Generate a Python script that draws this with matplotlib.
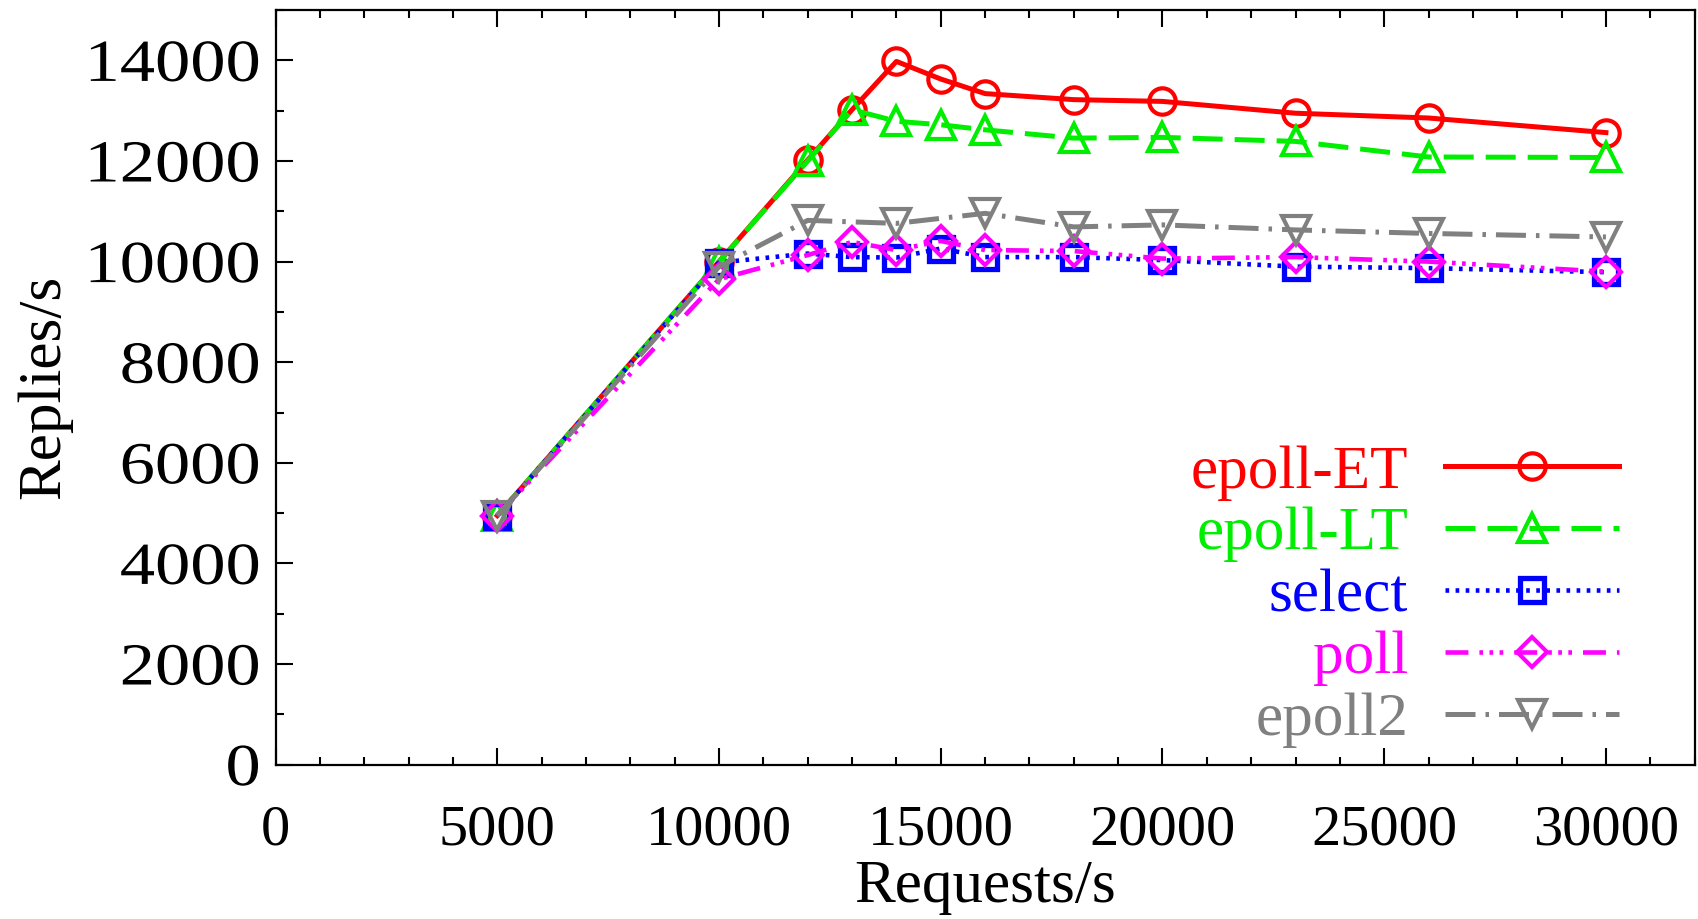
import matplotlib
matplotlib.use("Agg")
import matplotlib.pyplot as plt
from matplotlib.ticker import MultipleLocator
from matplotlib.patheffects import AbstractPathEffect
from matplotlib.transforms import Affine2D

plt.rcParams['font.family'] = ['Liberation Serif', 'DejaVu Serif']

# request rates (x) and reply rates (y)
req = [5000, 10000, 12000, 13000, 14000, 15000, 16000, 18000, 20000, 23000, 26000, 30000]
epoll_et = [4950, 10000, 12020, 13020, 13980, 13630, 13340, 13220, 13185, 12950, 12855, 12565]
epoll_lt = [4950, 10000, 12000, 13020, 12790, 12720, 12620, 12455, 12470, 12390, 12080, 12070]
select = [4950, 9980, 10160, 10090, 10080, 10260, 10090, 10090, 10030, 9900, 9870, 9790]
poll = [4950, 9650, 10130, 10390, 10230, 10410, 10230, 10210, 10060, 10090, 10000, 9800]

req2 = [5000, 10000, 12000, 14000, 16000, 18000, 20000, 23000, 26000, 30000]
epoll2 = [4950, 9900, 10820, 10760, 10960, 10690, 10730, 10630, 10560, 10490]

labels = ['epoll-ET', 'epoll-LT', 'select', 'poll', 'epoll2']
colors = ['#ff0000', '#00ee00', '#0000ff', '#ff00ff', '#808080']


class StretchX(AbstractPathEffect):
    # widen glyphs sideways, keeping the right end in place (the y labels
    # in the original are drawn wider than normal)
    def __init__(self, sx):
        super().__init__()
        self.sx = sx

    def draw_path(self, renderer, gc, tpath, affine, rgbFace=None):
        xmax = tpath.get_extents().x1
        t = Affine2D().scale(self.sx, 1).translate(-(self.sx - 1) * xmax, 0)
        renderer.draw_path(gc, tpath, t + affine, rgbFace)


fig = plt.figure(figsize=(16.98, 9.19), dpi=100)
ax = fig.add_axes([0.1623, 0.168, 0.8357, 0.821])

ms = 19
mew = 3.0
ax.plot(req, epoll_et, color=colors[0], lw=3.6, linestyle='-',
        marker='o', ms=ms, mfc='none', mew=mew, label=labels[0])
ax.plot(req, epoll_lt, color=colors[1], lw=3.6, linestyle=(0, (6, 2.4)),
        marker='^', ms=ms + 1, mfc='none', mew=mew, label=labels[1])
ax.plot(req, select, color=colors[2], lw=3.3, linestyle=(0, (0.8, 1.4)),
        marker='s', ms=ms - 2, mfc='none', mew=mew + 0.8, label=labels[2])
ax.plot(req, poll, color=colors[3], lw=3.3,
        linestyle=(0, (5, 2.4, 0.8, 1.4, 0.8, 1.4, 0.8, 2.4)),
        marker='D', ms=ms - 4, mfc='none', mew=mew, label=labels[3])
ax.plot(req2, epoll2, color=colors[4], lw=3.6, linestyle=(0, (6, 2, 0.7, 2)),
        marker='v', ms=ms + 1, mfc='none', mew=mew, label=labels[4])

ax.set_xlim(0, 32000)
ax.set_ylim(0, 15000)
ax.xaxis.set_major_locator(MultipleLocator(5000))
ax.xaxis.set_minor_locator(MultipleLocator(1000))
ax.set_yticks(range(0, 14001, 2000))
ax.yaxis.set_minor_locator(MultipleLocator(1000))

ax.tick_params(which='both', direction='in', top=True, right=False, width=1.5)
ax.tick_params(which='major', length=12)
ax.tick_params(which='minor', length=6)
ax.tick_params(axis='x', labelsize=42, pad=29)
ax.tick_params(axis='y', labelsize=43, pad=11)
for s in ax.spines.values():
    s.set_linewidth(1.6)

for lab in ax.get_yticklabels():
    lab.set_path_effects([StretchX(1.18)])

ax.set_xlabel('Requests/s', fontsize=44, labelpad=2)
ax.set_ylabel('Replies/s', fontsize=44, labelpad=28)

leg = ax.legend(loc='upper right', bbox_to_anchor=(0.9535, 0.516),
                bbox_transform=fig.transFigure, frameon=False, fontsize=44,
                markerfirst=False, numpoints=1, handlelength=2.85,
                handletextpad=0.6, labelspacing=0.1, borderpad=0,
                borderaxespad=0, labelcolor='linecolor')

fig.savefig('out.png', dpi=100)
